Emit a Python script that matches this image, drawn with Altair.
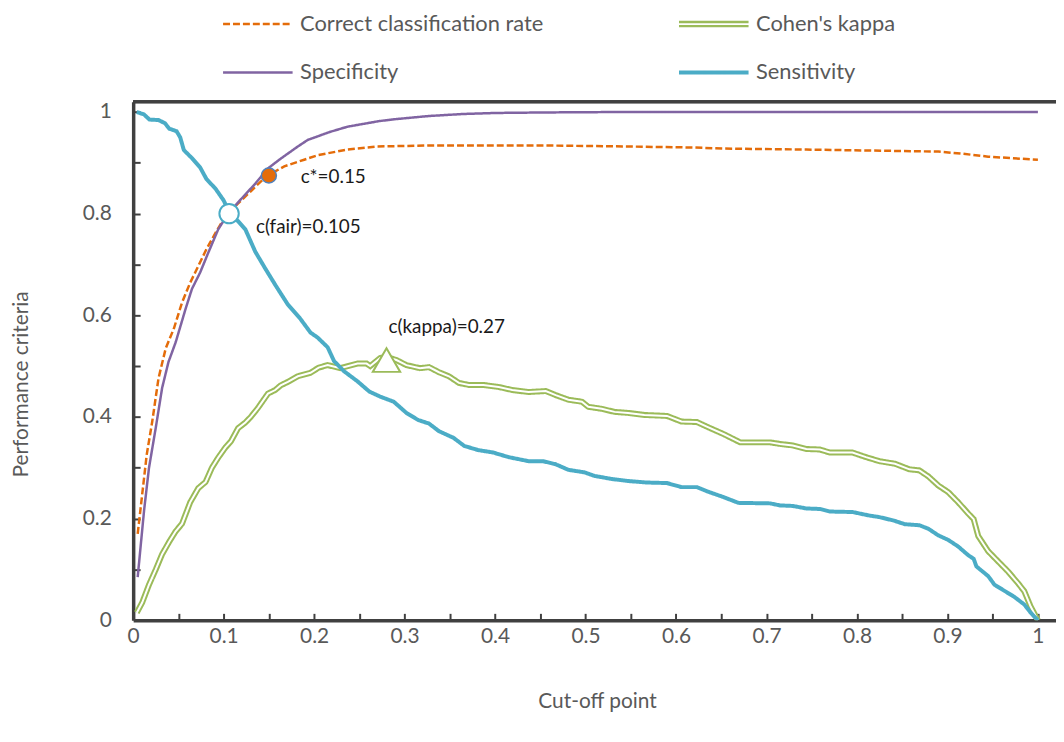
import altair as alt
import pandas as pd

# ---------------- data ----------------
series_names = ["Correct classification rate", "Specificity", "Cohen's kappa", "Sensitivity"]
series_colors = ["#E46C0A", "#8064A2", "#9BBB59", "#4BACC6"]
series_dash = [[7, 3], [1, 0], [1, 0], [1, 0]]
KAPPA = "Cohen's kappa"

ccr_x = [0.005, 0.010, 0.015, 0.021, 0.028, 0.036, 0.045, 0.054, 0.063, 0.072, 0.081, 0.091,
         0.102, 0.116, 0.130, 0.141, 0.151, 0.167, 0.189, 0.204, 0.237, 0.269, 0.327, 0.401,
         0.456, 0.547, 0.620, 0.653, 0.744, 0.817, 0.890, 0.916, 0.945, 0.981, 1.000]
ccr_y = [0.170, 0.248, 0.326, 0.390, 0.476, 0.535, 0.574, 0.625, 0.664, 0.697, 0.730, 0.762,
         0.795, 0.820, 0.844, 0.863, 0.877, 0.893, 0.906, 0.915, 0.926, 0.932, 0.934, 0.934,
         0.934, 0.932, 0.930, 0.928, 0.926, 0.924, 0.922, 0.918, 0.912, 0.908, 0.906]

spec_x = [0.005, 0.012, 0.0175, 0.025, 0.032, 0.039, 0.047, 0.058, 0.065, 0.074, 0.083, 0.094,
          0.105, 0.119, 0.135, 0.149, 0.163, 0.182, 0.193, 0.218, 0.237, 0.272, 0.291, 0.327,
          0.365, 0.401, 0.456, 0.550, 1.000]
spec_y = [0.085, 0.215, 0.300, 0.379, 0.457, 0.508, 0.547, 0.613, 0.652, 0.684, 0.723, 0.769,
          0.800, 0.828, 0.859, 0.889, 0.908, 0.932, 0.945, 0.961, 0.971, 0.982, 0.986, 0.992,
          0.996, 0.998, 0.999, 1.000, 1.000]

sens_x = [0.004, 0.012, 0.018, 0.028, 0.035, 0.040, 0.048, 0.052, 0.056, 0.065, 0.074, 0.081,
          0.091, 0.100, 0.107, 0.116, 0.124, 0.135, 0.146, 0.157, 0.171, 0.184, 0.196, 0.204,
          0.215, 0.222, 0.233, 0.248, 0.261, 0.273, 0.288, 0.302, 0.315, 0.327, 0.338, 0.354,
          0.366, 0.381, 0.398, 0.415, 0.437, 0.453, 0.467, 0.481, 0.499, 0.510, 0.529, 0.547,
          0.568, 0.590, 0.606, 0.623, 0.634, 0.653, 0.669, 0.704, 0.715, 0.729, 0.744, 0.759,
          0.770, 0.795, 0.814, 0.825, 0.841, 0.853, 0.869, 0.879, 0.890, 0.901, 0.912, 0.923,
          0.929, 0.932, 0.945, 0.952, 0.963, 0.974, 0.985, 0.992, 1.000]
sens_y = [1.000, 0.995, 0.985, 0.984, 0.978, 0.967, 0.962, 0.950, 0.925, 0.909, 0.891, 0.868,
          0.849, 0.826, 0.800, 0.785, 0.769, 0.725, 0.692, 0.660, 0.621, 0.595, 0.566, 0.556,
          0.537, 0.510, 0.490, 0.470, 0.450, 0.440, 0.430, 0.408, 0.394, 0.387, 0.372, 0.359,
          0.343, 0.335, 0.330, 0.321, 0.313, 0.313, 0.307, 0.296, 0.291, 0.284, 0.278, 0.274,
          0.271, 0.270, 0.262, 0.262, 0.254, 0.242, 0.231, 0.230, 0.226, 0.225, 0.220, 0.219,
          0.214, 0.213, 0.206, 0.203, 0.196, 0.189, 0.187, 0.180, 0.167, 0.158, 0.145, 0.128,
          0.121, 0.106, 0.087, 0.070, 0.058, 0.046, 0.031, 0.015, 0.000]

kap_x = [0.004, 0.010, 0.0175, 0.025, 0.032, 0.040, 0.047, 0.054, 0.063, 0.072, 0.080, 0.087,
         0.094, 0.102, 0.108, 0.116, 0.124, 0.130, 0.138, 0.149, 0.157, 0.163, 0.171, 0.182,
         0.196, 0.205, 0.215, 0.229, 0.248, 0.258, 0.262, 0.273, 0.280, 0.291, 0.302, 0.317,
         0.327, 0.338, 0.349, 0.360, 0.371, 0.387, 0.404, 0.419, 0.437, 0.456, 0.467, 0.481,
         0.496, 0.503, 0.518, 0.532, 0.547, 0.565, 0.590, 0.606, 0.623, 0.634, 0.653, 0.671,
         0.704, 0.715, 0.729, 0.744, 0.759, 0.770, 0.795, 0.810, 0.825, 0.842, 0.858, 0.869,
         0.879, 0.890, 0.901, 0.912, 0.923, 0.929, 0.934, 0.945, 0.956, 0.967, 0.978, 0.985,
         0.992, 1.000]
kap_y = [0.015, 0.035, 0.070, 0.100, 0.130, 0.155, 0.175, 0.190, 0.232, 0.260, 0.272, 0.300,
         0.320, 0.340, 0.352, 0.378, 0.389, 0.400, 0.418, 0.446, 0.453, 0.462, 0.469, 0.480,
         0.487, 0.497, 0.502, 0.496, 0.505, 0.505, 0.500, 0.516, 0.518, 0.512, 0.502, 0.496,
         0.498, 0.488, 0.480, 0.467, 0.463, 0.463, 0.459, 0.453, 0.449, 0.451, 0.443, 0.434,
         0.430, 0.420, 0.416, 0.410, 0.408, 0.404, 0.402, 0.391, 0.390, 0.381, 0.366, 0.350,
         0.350, 0.347, 0.344, 0.337, 0.336, 0.330, 0.330, 0.321, 0.313, 0.308, 0.297, 0.295,
         0.283, 0.265, 0.252, 0.232, 0.210, 0.199, 0.166, 0.136, 0.116, 0.096, 0.073, 0.057,
         0.027, 0.000]

# highlighted cut-off points
ann_kind = ["cstar", "cfair", "ckappa"]
ann_x = [0.150, 0.106, 0.280]
ann_y = [0.875, 0.800, 0.512]
ann_labels = ["c*=0.15", "c(fair)=0.105", "c(kappa)=0.27"]

# axis tick values / labels
x_label_values = [0, 0.1, 0.2, 0.3, 0.4, 0.5, 0.6, 0.7, 0.8, 0.9, 1.0]
x_tick_values = [0.05, 0.1, 0.15, 0.2, 0.25, 0.3, 0.35, 0.4, 0.45, 0.5, 0.55, 0.6, 0.65,
                 0.7, 0.75, 0.8, 0.85, 0.9, 0.95, 1.0]
y_label_values = [0, 0.2, 0.4, 0.6, 0.8, 1.0]
y_tick_values = [0.1, 0.2, 0.3, 0.4, 0.5, 0.6, 0.7, 0.8, 0.9, 1.0]

# ---------------- tables ----------------
rows = []
for name, xs, ys in [("Correct classification rate", ccr_x, ccr_y), (KAPPA, kap_x, kap_y),
                     ("Specificity", spec_x, spec_y), ("Sensitivity", sens_x, sens_y)]:
    for i, (a, b) in enumerate(zip(xs, ys)):
        rows.append({"series": name, "c": a, "v": b, "i": i})
df = pd.DataFrame(rows)
ann = pd.DataFrame({"kind": ann_kind, "c": ann_x, "v": ann_y, "label": ann_labels})

# ---------------- styling ----------------
FONT = "Lato"
W, H = 929, 522
AX = "#404040"
TXT = "#595959"
XDOM = [0, 1.02]
YDOM = [0, 1.02]

xs_scale = alt.Scale(domain=XDOM, nice=False, zero=False)
ys_scale = alt.Scale(domain=YDOM, nice=False, zero=False)

x_main_axis = alt.Axis(orient="bottom", values=x_label_values, format=".1~f", ticks=False,
                       domainColor=AX, domainWidth=3.5, grid=False, labelFont=FONT,
                       labelFontSize=21, labelColor=TXT, labelPadding=16,
                       labelBaseline="middle", labelFlush=False, labelOverlap=False,
                       title="Cut-off point", titleFont=FONT, titleFontSize=21,
                       titleFontWeight="normal", titleColor=TXT, titleX=467, titleY=82,
                       titleBaseline="middle")
y_main_axis = alt.Axis(orient="left", values=y_label_values, format=".1~f", ticks=False,
                       domainColor=AX, domainWidth=3.5, grid=False, labelFont=FONT,
                       labelFontSize=21, labelColor=TXT, labelPadding=22,
                       labelFlush=False, labelOverlap=False,
                       title="Performance criteria", titleFont=FONT, titleFontSize=21,
                       titleFontWeight="normal", titleColor=TXT, titleX=-112, titleY=284,
                       titleBaseline="middle", titleAngle=270)
x_tick_axis = alt.Axis(orient="bottom", values=x_tick_values, domain=False, labels=False,
                       ticks=True, tickSize=7, tickWidth=2, tickColor=AX, offset=-7,
                       title=None, grid=False)
y_tick_axis = alt.Axis(orient="left", values=y_tick_values, domain=False, labels=False,
                       ticks=True, tickSize=7, tickWidth=2, tickColor=AX, offset=-7,
                       title=None, grid=False)

# legend symbols: plain stroke, a double stroke for kappa, a thicker stroke for sensitivity
DOUBLE_LINE = "M-1,-0.06L1,-0.06M-1,0.06L1,0.06"
THICK_LINE = "M-1,-0.021L1,-0.021M-1,0L1,0M-1,0.021L1,0.021"
symbol_expr = (f"indexof(datum.value, 'kappa') >= 0 ? '{DOUBLE_LINE}' : "
               f"(datum.value == 'Sensitivity' ? '{THICK_LINE}' : 'stroke')")

legend_main = alt.Legend(orient="none", legendX=89, legendY=-115, columns=2, title=None,
                         symbolType=alt.ExprRef(expr=symbol_expr), symbolSize=4900,
                         symbolStrokeWidth=2.5, symbolOpacity=1, labelFont=FONT,
                         labelFontSize=22, labelColor=TXT, labelOffset=6, labelLimit=0,
                         rowPadding=1, columnPadding=130)

color_enc = alt.Color("series:N", scale=alt.Scale(domain=series_names, range=series_colors),
                      legend=legend_main)
dash_enc = alt.StrokeDash("series:N", scale=alt.Scale(domain=series_names, range=series_dash),
                          legend=legend_main)

base = alt.Chart(df)


def series_line(name, width, x_axis=None, y_axis=None):
    return base.mark_line(clip=True).encode(
        x=alt.X("c:Q", scale=xs_scale, axis=x_axis),
        y=alt.Y("v:Q", scale=ys_scale, axis=y_axis),
        color=color_enc, strokeDash=dash_enc, strokeWidth=alt.value(width), order="i:Q",
    ).transform_filter(alt.datum.series == name)


line_ccr = series_line("Correct classification rate", 2.5, x_main_axis, y_main_axis)
line_kap = series_line(KAPPA, 6)
line_spec = series_line("Specificity", 2.5)
line_sens = series_line("Sensitivity", 4)

kappa_inner = base.mark_line(clip=True, color="white").encode(
    x=alt.X("c:Q", scale=xs_scale, axis=x_tick_axis),
    y=alt.Y("v:Q", scale=ys_scale, axis=y_tick_axis),
    strokeWidth=alt.value(2),
    order="i:Q",
).transform_filter(alt.datum.series == KAPPA)

abase = alt.Chart(ann)
xe = alt.X("c:Q", scale=xs_scale, axis=None)
ye = alt.Y("v:Q", scale=ys_scale, axis=None)

m_fair = abase.mark_point(shape="circle", size=380, filled=True, fill="white",
                          stroke="#4BACC6", strokeWidth=2, opacity=1).encode(
    x=xe, y=ye).transform_filter(alt.datum.kind == "cfair")
m_star = abase.mark_point(shape="circle", size=230, filled=True, fill="#E46C0A",
                          stroke="#4F81BD", strokeWidth=1.5, opacity=1).encode(
    x=xe, y=ye).transform_filter(alt.datum.kind == "cstar")
m_kap = abase.mark_point(shape="triangle-up", size=760, filled=True, fill="white",
                         stroke="#9BBB59", strokeWidth=2, opacity=1).encode(
    x=xe, y=ye).transform_filter(alt.datum.kind == "ckappa")


def ann_text(kind, dx, dy):
    return abase.mark_text(align="left", baseline="middle", font=FONT, fontSize=19,
                           color="#1a1a1a", dx=dx, dy=dy).encode(
        x=xe, y=ye, text="label:N").transform_filter(alt.datum.kind == kind)


t_star = ann_text("cstar", 32, 2)
t_fair = ann_text("cfair", 27, 14)
t_kap = ann_text("ckappa", 2, -33)

top_border = alt.Chart(ann).mark_rule(color=AX, strokeWidth=3).encode(
    x=alt.value(0), x2=alt.value(W), y=alt.value(0))

chart = alt.layer(
    line_ccr, line_kap, kappa_inner, line_spec, line_sens,
    m_fair, m_star, m_kap, t_star, t_fair, t_kap, top_border
).resolve_axis(x="independent", y="independent").properties(
    width=W, height=H,
    padding={"left": 126, "top": 92, "right": 0, "bottom": 104},
    autosize=alt.AutoSizeParams(type="none"),
    background="white",
).configure_view(stroke="#D9D9D9", strokeWidth=1)

chart.save("out.html", embed_options={"renderer": "svg", "actions": False})
